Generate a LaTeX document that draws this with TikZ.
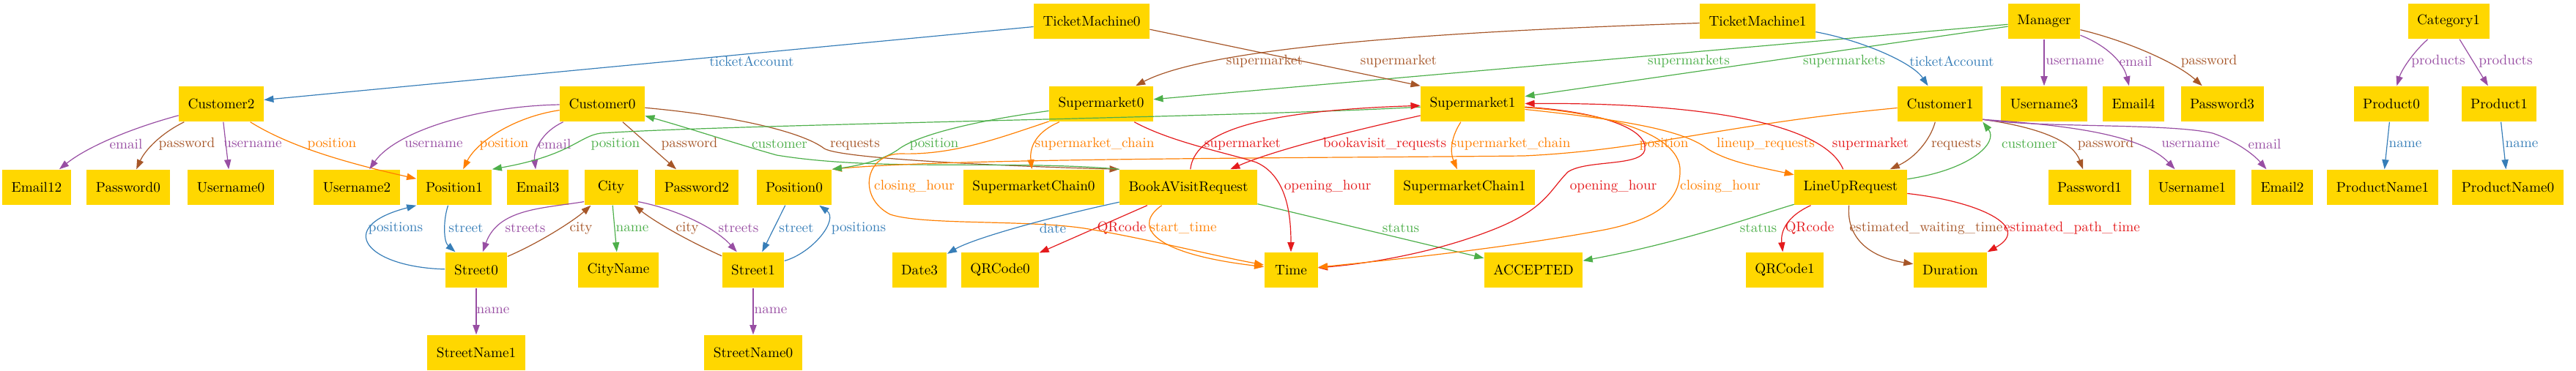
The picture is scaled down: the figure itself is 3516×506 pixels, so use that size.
\documentclass[tikz,border=0pt]{standalone}
\usepackage{tikz}
\usetikzlibrary{arrows.meta}
\definecolor{boxgold}{RGB}{255,215,0}
\definecolor{setblue}{RGB}{55,126,184}
\definecolor{setgreen}{RGB}{77,175,74}
\definecolor{setpurple}{RGB}{152,78,163}
\definecolor{setorange}{RGB}{255,127,0}
\definecolor{setbrown}{RGB}{166,86,40}
\definecolor{setred}{RGB}{228,26,28}
\def\px{0.183mm}
\tikzset{
  box/.style={fill=boxgold, minimum height=8.91mm, minimum width=13.36mm,
    inner xsep=2.29mm, inner ysep=0pt},
  rel/.style={line width=0.22mm, -{Triangle[length=2.4mm,width=1.7mm]}},
  lab/.style={inner sep=0pt}
}

\begin{document}
\begin{tikzpicture}[x=\px,y=-\px]
        \useasboundingbox (0,0) rectangle (3516,506);
        % objects, row by row
        \foreach \n/\x in {TicketMachine0/1490,TicketMachine1/2399,Manager/2790,Category1/3342}
          \node[box] (\n) at (\x,29) {\n};
        \foreach \n/\x in {Customer2/302,Customer0/822,Supermarket0/1503,Supermarket1/2010,
            Customer1/2648,Username3/2790,Email4/2912,Password3/3033,Product0/3264,Product1/3411}
          \node[box] (\n) at (\x,142) {\n};
        \foreach \n/\x in {Email12/50,Password0/175,Username0/315,Username2/487,Position1/620,
            Email3/734,City/834,Password2/951,Position0/1084,SupermarketChain0/1411,
            BookAVisitRequest/1622,SupermarketChain1/1999,LineUpRequest/2526,Password1/2852,
            Username1/2992,Email2/3115,ProductName1/3252,ProductName0/3423}
          \node[box] (\n) at (\x,256) {\n};
        \foreach \n/\x in {Street0/650,CityName/844,Street1/1028,Date3/1255,QRCode0/1365,
            Time/1762,ACCEPTED/2093,QRCode1/2436,Duration/2662}
          \node[box] (\n) at (\x,369) {\n};
        \foreach \n/\x in {StreetName1/650,StreetName0/1028}
          \node[box] (\n) at (\x,482) {\n};
        % straight links
        \foreach \a/\b/\c/\t/\lx/\ly in {
            TicketMachine0/Customer2/setblue/ticketAccount/1026/84,
            Manager/Supermarket0/setgreen/supermarkets/2305/84,
            Manager/Supermarket1/setgreen/supermarkets/2517/84,
            Manager/Username3/setpurple/username/2832/84,
            Category1/Product1/setpurple/products/3420/84,
            Product0/ProductName1/setblue/name/3283/197,
            Product1/ProductName0/setblue/name/3442/197,
            Customer2/Username0/setpurple/username/345/197,
            Customer0/Password2/setbrown/password/941/197,
            BookAVisitRequest/QRCode0/setred/QRcode/1531/312,
            BookAVisitRequest/ACCEPTED/setgreen/status/1912/312,
            City/CityName/setgreen/name/863/312,
            Position0/Street1/setblue/street/1087/312,
            Street0/StreetName1/setpurple/name/673/424,
            Street1/StreetName0/setpurple/name/1052/424}
          \draw[rel,\c] (\a) -- (\b) node[lab] at (\lx,\ly) {\t};
        % top row
        \draw[rel,setbrown] (TicketMachine0.-8) -- (Supermarket1.north west)
          node[lab] at (1909,84) {supermarket};
        \draw[rel,setbrown] (TicketMachine1) .. controls (1900,45) and (1640,70) .. (Supermarket0)
          node[lab] at (1726,84) {supermarket};
        \draw[rel,setblue] (TicketMachine1) .. controls (2540,55) and (2610,85) .. (Customer1)
          node[lab] at (2664,84) {ticketAccount};
        \draw[rel,setpurple] (Manager) .. controls (2875,62) and (2898,85) .. (Email4)
          node[lab] at (2915,84) {email};
        \draw[rel,setbrown] (Manager) .. controls (2900,55) and (2970,85) .. (Password3)
          node[lab] at (3015,84) {password};
        \draw[rel,setpurple] (Category1) .. controls (3295,70) and (3278,95) .. (Product0)
          node[lab] at (3328,84) {products};
        % customers
        \draw[rel,setpurple] (Customer2) .. controls (180,175) and (120,200) .. (Email12)
          node[lab] at (172,197) {email};
        \draw[rel,setbrown] (Customer2) .. controls (220,182) and (198,205) .. (Password0)
          node[lab] at (255,197) {password};
        \draw[rel,setorange] (Customer2) .. controls (395,200) and (470,222) .. (Position1)
          node[lab] at (453,197) {position};
        \draw[rel,setpurple] (Customer0) .. controls (650,145) and (540,180) .. (Username2)
          node[lab] at (592,197) {username};
        \draw[rel,setorange] (Customer0) .. controls (700,160) and (650,195) .. (Position1)
          node[lab] at (688,197) {position};
        \draw[rel,setpurple] (Customer0) .. controls (740,180) and (728,205) .. (Email3)
          node[lab] at (757,197) {email};
        \draw[rel,setbrown] (Customer0) .. controls (1000,158) and (1095,180) .. (1125,203)
          .. controls (1150,218) and (1400,228) .. (BookAVisitRequest.north west)
          node[lab] at (1167,197) {requests};
        \draw[rel,setgreen] (BookAVisitRequest.north west) .. controls (1380,218) and (1200,235) .. (1060,212)
          .. controls (1000,195) and (940,175) .. (Customer0)
          node[lab] at (1064,197) {customer};
        \draw[rel,setorange] (Customer1) .. controls (2350,170) and (2250,205) .. (2080,213)
          .. controls (1800,216) and (1300,216) .. (Position0.north east)
          node[lab] at (2271,197) {position};
        % supermarkets
        \draw[rel,setgreen] (Supermarket0) .. controls (1330,165) and (1250,185) .. (1225,205)
          .. controls (1200,222) and (1160,228) .. (Position0.north east)
          node[lab] at (1275,197) {position};
        \draw[rel,setgreen] (Supermarket1) .. controls (1700,160) and (1000,170) .. (820,182)
          .. controls (790,186) and (780,212) .. (Position1.north east)
          node[lab] at (840,197) {position};
        \draw[rel,setorange] (Supermarket0) .. controls (1415,180) and (1405,200) .. (SupermarketChain0)
          node[lab] at (1494,197) {supermarket\_chain};
        \draw[rel,setred] (Supermarket0) .. controls (1600,195) and (1680,210) .. (1715,222)
          .. controls (1755,240) and (1762,290) .. (Time)
          node[lab] at (1812,255) {opening\_hour};
        \draw[rel,setorange] (Supermarket0) .. controls (1360,190) and (1300,212) .. (1230,210)
          .. controls (1180,210) and (1170,270) .. (1215,293)
          .. controls (1260,308) and (1400,300) .. (1480,312)
          .. controls (1560,325) and (1650,348) .. (Time)
          node[lab] at (1248,255) {closing\_hour};
        \draw[rel,setorange] (Supermarket1) .. controls (1982,185) and (1978,205) .. (SupermarketChain1)
          node[lab] at (2062,197) {supermarket\_chain};
        \draw[rel,setred] (Supermarket1) .. controls (2180,152) and (2250,175) .. (2245,205)
          .. controls (2240,228) and (2165,218) .. (2140,235)
          .. controls (2115,260) and (2110,285) .. (2040,313)
          .. controls (1960,345) and (1870,360) .. (Time)
          node[lab] at (2202,255) {opening\_hour};
        \draw[rel,setorange] (Supermarket1) .. controls (2200,155) and (2290,185) .. (2293,230)
          .. controls (2295,275) and (2260,300) .. (2190,314)
          .. controls (2050,340) and (1900,355) .. (Time)
          node[lab] at (2348,255) {closing\_hour};
        \draw[rel,setorange] (Supermarket1) .. controls (2230,165) and (2300,180) .. (2330,203)
          .. controls (2360,222) and (2400,228) .. (LineUpRequest)
          node[lab] at (2410,197) {lineup\_requests};
        % book a visit
        \draw[rel,setorange] (BookAVisitRequest) .. controls (1550,305) and (1560,345) .. (Time)
          node[lab] at (1615,312) {start\_time};
        \draw[rel,setblue] (BookAVisitRequest) .. controls (1440,295) and (1330,325) .. (Date3)
          node[lab] at (1437,312) {date};
        \draw[rel,setred] (BookAVisitRequest) .. controls (1630,185) and (1700,152) .. (Supermarket1)
          node[lab] at (1696,197) {supermarket};
        \draw[rel,setred] (Supermarket1) .. controls (1840,180) and (1740,205) .. (BookAVisitRequest)
          node[lab] at (1890,197) {bookavisit\_requests};
        % line up
        \draw[rel,setred] (LineUpRequest) .. controls (2490,170) and (2330,140) .. (Supermarket1)
          node[lab] at (2553,197) {supermarket};
        \draw[rel,setbrown] (Customer1) .. controls (2635,190) and (2615,215) .. (LineUpRequest)
          node[lab] at (2670,197) {requests};
        \draw[rel,setgreen] (LineUpRequest) .. controls (2690,232) and (2728,195) .. (Customer1.south east)
          node[lab] at (2770,197) {customer};
        \draw[rel,setbrown] (Customer1.-20) .. controls (2790,175) and (2830,195) .. (Password1)
          node[lab] at (2874,197) {password};
        \draw[rel,setpurple] (Customer1.-20) .. controls (2800,170) and (2920,180) .. (Username1)
          node[lab] at (2990,197) {username};
        \draw[rel,setpurple] (Customer1.-20) .. controls (2780,175) and (2960,168) .. (3020,182)
          .. controls (3050,192) and (3075,210) .. (Email2)
          node[lab] at (3091,197) {email};
        \draw[rel,setred] (LineUpRequest) .. controls (2440,295) and (2430,315) .. (QRCode1)
          node[lab] at (2470,312) {QRcode};
        \draw[rel,setbrown] (LineUpRequest) .. controls (2520,320) and (2545,350) .. (Duration)
          node[lab] at (2629,312) {estimated\_waiting\_time};
        \draw[rel,setred] (LineUpRequest) .. controls (2700,275) and (2775,310) .. (Duration.north east)
          node[lab] at (2828,312) {estimated\_path\_time};
        \draw[rel,setgreen] (LineUpRequest) .. controls (2380,300) and (2300,330) .. (ACCEPTED)
          node[lab] at (2400,312) {status};
        % streets and positions
        \draw[rel,setblue] (Position1) .. controls (605,300) and (605,330) .. (Street0)
          node[lab] at (636,312) {street};
        \draw[rel,setpurple] (City.208) .. controls (740,285) and (680,285) .. (Street0)
          node[lab] at (717,312) {streets};
        \draw[rel,setbrown] (Street0) .. controls (740,330) and (785,300) .. (City)
          node[lab] at (793,312) {city};
        \draw[rel,setbrown] (Street1) .. controls (930,325) and (890,300) .. (City)
          node[lab] at (938,312) {city};
        \draw[rel,setpurple] (City.-28) .. controls (920,285) and (975,310) .. (Street1)
          node[lab] at (1008,312) {streets};
        \draw[rel,setblue] (Street1) .. controls (1110,345) and (1145,300) .. (Position0)
          node[lab] at (1172,312) {positions};
        \draw[rel,setblue] (Street0) .. controls (500,365) and (455,310) .. (Position1.south west)
          node[lab] at (540,312) {positions};
      \end{tikzpicture}
\end{document}
